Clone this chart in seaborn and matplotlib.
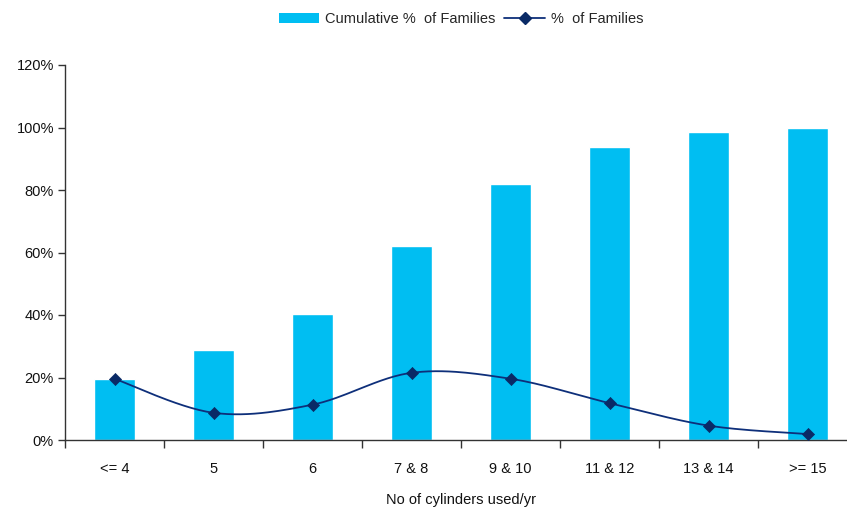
import numpy as np
import pandas as pd
import matplotlib
matplotlib.use("Agg")
import matplotlib.pyplot as plt
from matplotlib.patches import Patch
from matplotlib.lines import Line2D
from matplotlib.ticker import FuncFormatter, FixedLocator
import seaborn as sns

# data
categories = ['<= 4', '5', '6', '7 & 8', '9 & 10', '11 & 12', '13 & 14', '>= 15']
cumulative_pct = [19.5, 28.8, 40.3, 62.1, 81.9, 93.8, 98.6, 99.8]
family_pct = [19.6, 8.7, 11.3, 21.5, 19.6, 11.8, 4.6, 1.9]

bar_color = '#00BEF2'
line_color = '#0E2F7A'
marker_color = '#0A2A66'

sns.set_style('white')
plt.rcParams['font.family'] = ['Liberation Sans', 'DejaVu Sans']

df = pd.DataFrame({'cat': categories, 'cum': cumulative_pct, 'pct': family_pct})
df['x'] = np.arange(len(df))


def smooth(xs, ys, n=30):
    # catmull-rom style smoothing, like excel's smoothed line
    xs = np.asarray(xs, float)
    ys = np.asarray(ys, float)
    px = np.concatenate([[xs[0]], xs, [xs[-1]]])
    py = np.concatenate([[ys[0]], ys, [ys[-1]]])
    outx, outy = [], []
    for i in range(1, len(px) - 2):
        t = np.linspace(0, 1, n)
        p0, p1, p2, p3 = [np.array([px[j], py[j]]) for j in range(i - 1, i + 3)]
        c1 = p1 + (p2 - p0) / 6
        c2 = p2 - (p3 - p1) / 6
        pts = ((1 - t)[:, None] ** 3 * p1 + 3 * ((1 - t) ** 2 * t)[:, None] * c1
               + 3 * ((1 - t) * t ** 2)[:, None] * c2 + (t ** 3)[:, None] * p2)
        outx.extend(pts[:, 0])
        outy.extend(pts[:, 1])
    return np.array(outx), np.array(outy)


fig = plt.figure(figsize=(8.47, 5.08), dpi=100)
ax = fig.add_axes([65 / 847, 68 / 508, 792 / 847, 375 / 508])

sns.barplot(data=df, x='cat', y='cum', color=bar_color, width=0.42,
            saturation=1, ax=ax, zorder=2)
sx, sy = smooth(df['x'], df['pct'])
ax.plot(sx, sy, color=line_color, lw=1.3, zorder=3)
sns.scatterplot(data=df, x='x', y='pct', marker='D', s=38, color=marker_color,
                edgecolor=marker_color, linewidth=0.5, ax=ax, zorder=4)

ax.set_xlim(-0.5, len(categories) - 0.5)
ax.set_ylim(0, 120)
ax.set_yticks(np.arange(0, 121, 20))
ax.yaxis.set_major_formatter(FuncFormatter(lambda v, p: f'{int(v)}%'))

# ticks at category boundaries, labels at centers
ax.xaxis.set_major_locator(FixedLocator(np.arange(-0.5, len(categories), 1.0)))
ax.xaxis.set_minor_locator(FixedLocator(np.arange(len(categories))))
ax.set_xticklabels([], minor=False)
ax.set_xticklabels(categories, minor=True)
ax.tick_params(axis='x', which='major', direction='out', length=6, width=1, color='#333333', bottom=True)
ax.tick_params(axis='x', which='minor', length=0, pad=16, labelsize=10.5, colors='#111111')
ax.tick_params(axis='y', direction='out', length=5, width=1, color='#333333', left=True,
               labelsize=10.5, colors='#111111', pad=3)

for s in ['top', 'right']:
    ax.spines[s].set_visible(False)
for s in ['left', 'bottom']:
    ax.spines[s].set_color('#333333')
    ax.spines[s].set_linewidth(1)

ax.set_ylabel('')
ax.set_xlabel('No of cylinders used/yr', fontsize=10.5, color='#111111', labelpad=12)

handles = [Patch(facecolor=bar_color, edgecolor='none'),
           Line2D([], [], color=line_color, lw=1.3, marker='D', markersize=6,
                  markerfacecolor=marker_color, markeredgecolor=marker_color)]
fig.legend(handles, ['Cumulative %  of Families', '%  of Families'], ncol=2,
           loc='center', bbox_to_anchor=(461 / 847, 1 - 19 / 508), frameon=False,
           fontsize=10.5, handlelength=2.8, handletextpad=0.4, columnspacing=0.6)

fig.savefig('out.png', dpi=100)
